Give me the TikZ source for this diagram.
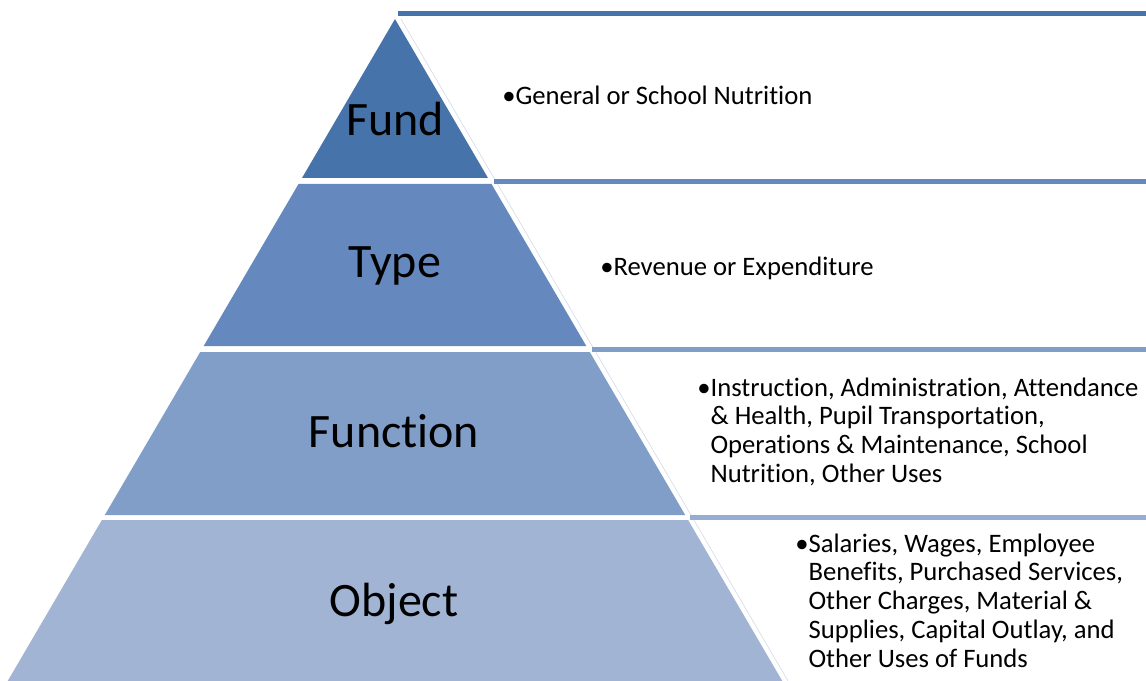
\documentclass[tikz,border=0pt]{standalone}
\usepackage{fontspec}
\setmainfont[Ligatures=NoCommon]{Carlito}

\definecolor{levelA}{RGB}{70,116,170}
\definecolor{levelB}{RGB}{101,137,190}
\definecolor{levelC}{RGB}{129,158,201}
\definecolor{levelD}{RGB}{162,180,212}
\definecolor{barD}{RGB}{150,172,210}
\definecolor{edgeline}{RGB}{205,216,234}

\tikzset{
    layerlabel/.style={anchor=base, inner sep=0pt, font=\fontsize{36}{42}\selectfont},
    itemtext/.style={anchor=base west, inner sep=0pt, font=\fontsize{20}{21.7}\selectfont},
    topbar/.style={line width=3.8pt}
}

\begin{document}
\begin{tikzpicture}[x=0.75pt, y=-0.75pt]
    \useasboundingbox[fill=white] (0,0) rectangle (1146,681);

    % boxes on the right
    \draw[edgeline, thin] (401,19) -- (788,681);
    \draw[topbar, levelA] (398,13.5) -- (1146,13.5);
    \draw[topbar, levelB] (494,181.5) -- (1146,181.5);
    \draw[topbar, levelC] (592,349.5) -- (1146,349.5);
    \draw[topbar, barD] (690,517.5) -- (1146,517.5);

    % pyramid
    \fill[levelA] (395,19) -- (488,178) -- (302,178) -- cycle;
    \fill[levelB] (298.5,184) -- (491.5,184) -- (586.3,346) -- (203.7,346) -- cycle;
    \fill[levelC] (200.2,352) -- (589.8,352) -- (685.2,515) -- (104.8,515) -- cycle;
    \fill[levelD] (101.9,520) -- (688.1,520) -- (782.3,681) -- (7.7,681) -- cycle;

    % labels
    \node[layerlabel] (fund) at (395,136) {Fund};
    \node[layerlabel] (type) at (395,277) {Type};
    \node[layerlabel] (function) at (394,447) {Function};
    \node[layerlabel] (object) at (394,616) {Object};

    % items
    \node[itemtext] (fundtext) at (502,105) {•General or School Nutrition};
    \node[itemtext] (typetext) at (600,275) {•Revenue or Expenditure};
    \node[itemtext] (functiontext) at (697,396) {\begin{tabular}[t]{@{}l@{}l@{}}
        •&Instruction, Administration, Attendance\\
        &\& Health, Pupil Transportation,\\
        &Operations \& Maintenance, School\\
        &Nutrition, Other Uses
    \end{tabular}};
    \node[itemtext] (objecttext) at (795,552) {\begin{tabular}[t]{@{}l@{}l@{}}
        •&Salaries, Wages, Employee\\
        &Benefits, Purchased Services,\\
        &Other Charges, Material \&\\
        &Supplies, Capital Outlay, and\\
        &Other Uses of Funds
    \end{tabular}};
\end{tikzpicture}
\end{document}
